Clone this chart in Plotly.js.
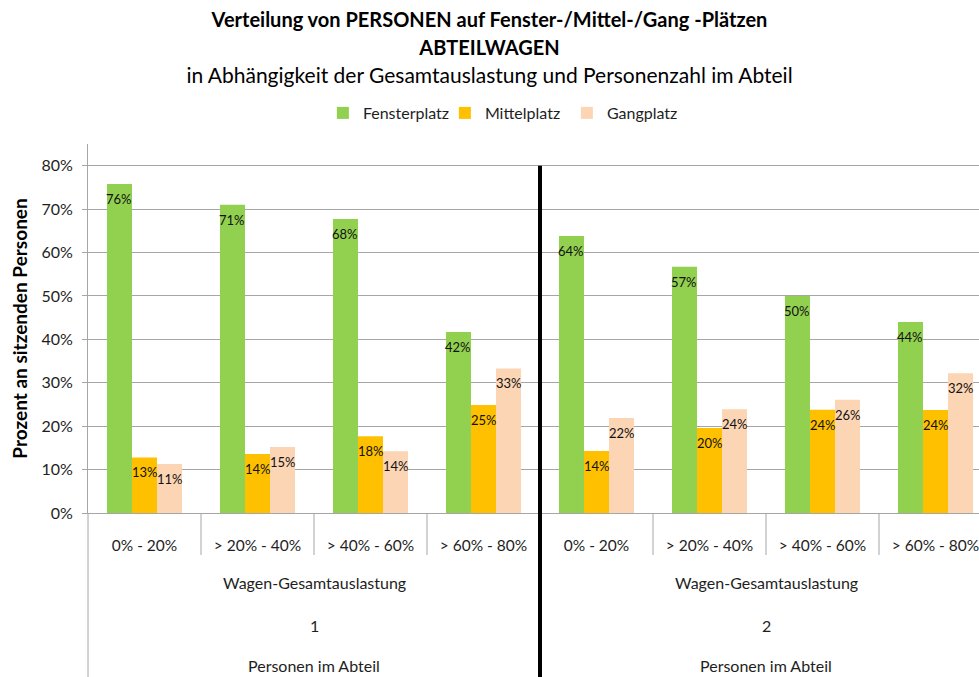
<!DOCTYPE html>
<html><head><meta charset="utf-8">
<script src="https://cdn.plot.ly/plotly-3.0.1.min.js"></script>
<style>html,body{margin:0;padding:0;background:#fff}</style>
</head><body><div id="chart" style="width:979px;height:677px"></div>
<script>
// ---- data ----
const loadCategories = ["0% - 20%", "> 20% - 40%", "> 40% - 60%", "> 60% - 80%"];
const personGroups = ["1", "2"];
const loadAxisLabel = "Wagen-Gesamtauslastung";
const groupAxisLabel = "Personen im Abteil";
const seriesNames = ["Fensterplatz", "Mittelplatz", "Gangplatz"];
const seriesColors = ["#92D050", "#FFC000", "#FCD5B5"];
// values per bar position: group "1" (4 loads), then group "2" (4 loads)
const fensterplatz = [0.758, 0.710, 0.677, 0.417, 0.638, 0.567, 0.500, 0.440];
const mittelplatz  = [0.128, 0.136, 0.177, 0.249, 0.143, 0.196, 0.238, 0.237];
const gangplatz    = [0.113, 0.152, 0.142, 0.333, 0.219, 0.239, 0.261, 0.322];
const yTicks = [0, 0.1, 0.2, 0.3, 0.4, 0.5, 0.6, 0.7, 0.8];

// ---- build ----
const FONT = "Lato, 'Open Sans', sans-serif";
const TXT = "#1e1e1e";
const GRID = "#a6a6a6";
const nCat = loadCategories.length;
const xs = [], tickText = [];
personGroups.forEach((g, gi) => loadCategories.forEach((c, ci) => { xs.push(gi * nCat + ci); tickText.push(c); }));

const seriesValues = [fensterplatz, mittelplatz, gangplatz];
const bargap = 0.336;
const barW = (1 - bargap) / seriesValues.length;

const traces = seriesValues.map((vals, k) => ({
  type: "bar", name: seriesNames[k], x: xs, y: vals,
  marker: {color: seriesColors[k]},
  hoverinfo: "skip"
}));

const annotations = [];
seriesValues.forEach((vals, k) => {
  const off = (k - (seriesValues.length - 1) / 2) * barW;
  vals.forEach((v, i) => annotations.push({
    x: xs[i] + off, y: v, xref: "x", yref: "y", yshift: -15,
    xanchor: "center", yanchor: "middle",
    text: Math.round(v * 100) + "%", showarrow: false,
    font: {family: FONT, size: 13, color: "#111"}
  }));
});

const plotH = 677 - 144 - 164;
const pxToPaperY = px => -px / plotH;   // pixels below the plot bottom
const bottomY = pxToPaperY(164);

personGroups.forEach((g, gi) => {
  const cx = gi * nCat + (nCat - 1) / 2;
  [[loadAxisLabel, 69], [g, 112], [groupAxisLabel, 152]].forEach(([t, dy]) => annotations.push({
    x: cx, xref: "x", y: pxToPaperY(dy), yref: "paper", xanchor: "center", yanchor: "middle",
    text: t, showarrow: false, font: {family: FONT, size: 16, color: TXT}
  }));
});

const shapes = [];
for (let i = 1; i < xs.length; i++) {
  if (i % nCat === 0) continue;
  shapes.push({type: "line", xref: "x", yref: "paper", x0: i - 0.5, x1: i - 0.5, y0: 0, y1: pxToPaperY(42),
    line: {color: GRID, width: 1}});
}
for (let gi = 1; gi < personGroups.length; gi++) {
  const bx = gi * nCat - 0.5;
  shapes.push({type: "line", xref: "x", yref: "paper", x0: bx, x1: bx, y0: bottomY, y1: 0.8 / 0.85,
    line: {color: "#000", width: 4}});
}
shapes.push({type: "line", xref: "paper", yref: "paper", x0: 0, x1: 0, y0: bottomY, y1: 0,
  line: {color: GRID, width: 1}});

const layout = {
  width: 979, height: 677,
  margin: {l: 88, r: 0, t: 144, b: 164, pad: 0},
  paper_bgcolor: "#fff", plot_bgcolor: "#fff",
  font: {family: FONT, color: TXT},
  title: {
    text: '<span style="font-size:20px"><b>Verteilung von PERSONEN auf Fenster-/Mittel-/Gang -Plätzen</b></span><br>' +
          '<span style="font-size:20px"><b>ABTEILWAGEN</b></span><br>' +
          '<span style="font-size:21px">in Abhängigkeit der Gesamtauslastung und Personenzahl im Abteil</span>',
    font: {family: FONT, size: 21.5, color: "#000"},
    x: 0.5, xref: "container", xanchor: "center",
    y: 1 - 27 / 677, yref: "container", yanchor: "top"
  },
  barmode: "group", bargap: bargap, bargroupgap: 0,
  showlegend: true,
  legend: {orientation: "h", x: 0.469, xanchor: "center", y: 1 + 31 / plotH, yanchor: "middle",
    entrywidth: 77, entrywidthmode: "pixels",
    font: {family: FONT, size: 16, color: TXT}, traceorder: "normal"},
  xaxis: {
    range: [-0.5, -0.5 + 891 / 113], tickvals: xs, ticktext: tickText,
    showgrid: false, zeroline: false, showline: true, linecolor: GRID, linewidth: 1,
    ticks: "", ticklabelstandoff: 18, ticklabeloverflow: "allow",
    tickfont: {family: FONT, size: 15.5, color: TXT}, fixedrange: true
  },
  yaxis: {
    range: [0, 0.85], tickvals: yTicks, tickformat: ".0%",
    showgrid: true, gridcolor: GRID, gridwidth: 1, zeroline: false,
    showline: true, linecolor: GRID, linewidth: 1,
    ticks: "outside", ticklen: 5, tickcolor: GRID, ticklabelstandoff: 6,
    tickfont: {family: FONT, size: 16, color: TXT},
    title: {text: "<b>Prozent an sitzenden Personen</b>", font: {family: FONT, size: 19, color: "#000"}, standoff: 8},
    fixedrange: true
  },
  annotations: annotations,
  shapes: shapes
};

Plotly.newPlot("chart", traces, layout, {displayModeBar: false, staticPlot: true});
</script>
</body></html>
